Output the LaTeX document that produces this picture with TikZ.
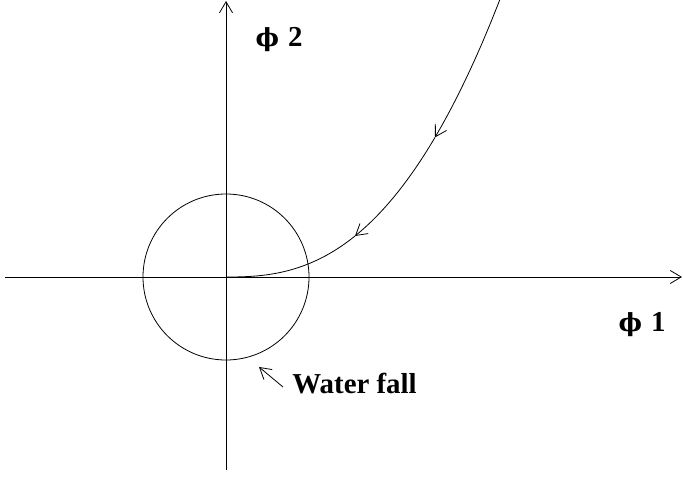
\documentclass[tikz,border=0pt]{standalone}
\usepackage{fontspec}
\setmainfont{Liberation Serif}
\newfontfamily\phifont{DejaVu Serif}
\usetikzlibrary{arrows.meta}
\begin{document}
\begin{tikzpicture}[x=1bp,y=-1bp,line width=0.8bp,
  barb/.style={-{Straight Barb[length=11bp,width=13bp,line width=0.8bp]}},
  lbl/.style={font=\fontsize{29}{29}\selectfont\bfseries, inner sep=0pt}]
\useasboundingbox (0,0) rectangle (683,500);
\coordinate (O) at (226,277);
\coordinate (xs) at (5,277);
\coordinate (xe) at (682,277);
\coordinate (ys) at (226,470);
\coordinate (ye) at (226,1);
\draw[barb] (xs) -- (xe);
\draw[barb] (ys) -- (ye);
\draw (O) circle[radius=83];
% curve v = 41*(u/129)^2.54
\draw[barb] plot[domain=276:209,samples=30,variable=\u] ({226+\u},{277-41*(\u/129)^2.54});
\draw[barb] plot[domain=209:129,samples=30,variable=\u] ({226+\u},{277-41*(\u/129)^2.54});
\draw plot[domain=129:0.01,samples=40,variable=\u] ({226+\u},{277-41*(\u/129)^2.54});
\node[lbl] (p2) at (279,40) {{\phifont\fontsize{25}{25}\selectfont ϕ}\hspace{9bp}2};
\node[lbl] (p1) at (642,325) {{\phifont\fontsize{25}{25}\selectfont ϕ}\hspace{9bp}1};
\node[lbl,anchor=west] (wf) at (292,384) {Water fall};
\coordinate (wa) at (283,387);
\coordinate (wb) at (259,367);
\draw[barb] (wa) -- (wb);
\end{tikzpicture}
\end{document}
